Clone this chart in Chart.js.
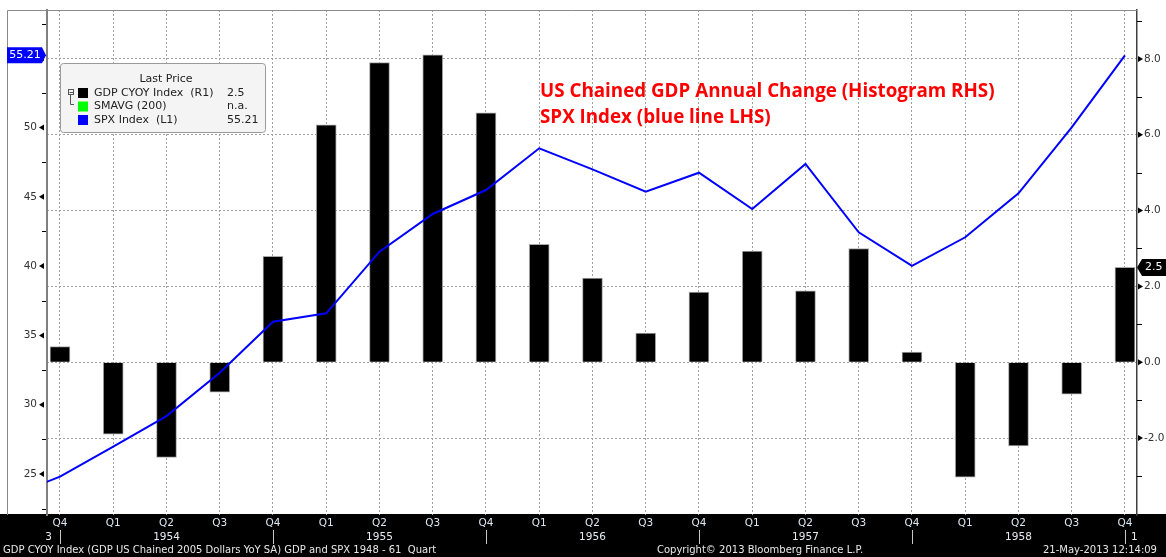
<!DOCTYPE html>
<html>
<head>
<meta charset="utf-8">
<title>US Chained GDP vs SPX</title>
<script src="https://cdn.jsdelivr.net/npm/chart.js@4.4.1/dist/chart.umd.min.js"></script>
<style>
    html, body { margin: 0; padding: 0; background: #fff; }
    #wrap { position: relative; width: 1166px; height: 557px; }
</style>
</head>
<body>
<div id="wrap"><canvas id="chart"></canvas></div>
<script>
// ------------------------------------------
// Dados (Q4 1953 .. Q4 1958)
// ------------------------------------------
const quarters = ['Q4', 'Q1', 'Q2', 'Q3', 'Q4', 'Q1', 'Q2', 'Q3', 'Q4', 'Q1', 'Q2',
                  'Q3', 'Q4', 'Q1', 'Q2', 'Q3', 'Q4', 'Q1', 'Q2', 'Q3', 'Q4'];
const yearLabels = ['', '', '1954', '', '', '', '1955', '', '', '', '1956',
                    '', '', '', '1957', '', '', '', '1958', '', ''];

// GDP CYOY (histograma, eixo direito)
const gdpYoY = [0.41, -1.90, -2.51, -0.79, 2.79, 6.26, 7.90, 8.11, 6.58, 3.11, 2.22,
                0.77, 1.85, 2.93, 1.88, 3.00, 0.27, -3.03, -2.21, -0.84, 2.5];

// SPX (linha azul, eixo esquerdo) - primeiro valor é Q3 1953, fora da área
const spxQ3_1953 = 23.3;
const spx = [24.81, 26.97, 29.18, 32.31, 35.99, 36.59, 41.04, 43.76, 45.49, 48.50, 46.98,
             45.37, 46.74, 44.12, 47.37, 42.44, 40.01, 42.08, 45.25, 50.01, 55.21];

// Ticks
const leftTicks = [25, 30, 35, 40, 45, 50, 55];
const rightTicks = [-2, 0, 2, 4, 6, 8];

const FONT = '"DejaVu Sans", Verdana, sans-serif';

// zera o padding automático dos rótulos para fixar a área do gráfico
function noPad(s) {
    s.paddingTop = 0;
    s.paddingBottom = 0;
    s.paddingLeft = 0;
    s.paddingRight = 0;
}

// ------------------------------------------
// Plugin: fundo, faixa preta, tags, legenda e título
// ------------------------------------------
const bbgDecor = {
    id: 'bbgDecor',
    beforeDraw(chart) {
        const { ctx, width, height, chartArea } = chart;
        ctx.save();
        ctx.fillStyle = '#fff';
        ctx.fillRect(0, 0, width, height);
        ctx.fillStyle = '#000';
        ctx.fillRect(0, chartArea.bottom - 1, width, height - chartArea.bottom + 1);
        ctx.restore();
    },
    afterDraw(chart) {
        const { ctx, chartArea } = chart;
        const xs = chart.scales.x;
        const yl = chart.scales.y;
        const yr = chart.scales.y1;
        ctx.save();

        // moldura externa
        ctx.strokeStyle = '#8a8a8a';
        ctx.lineWidth = 1;
        ctx.beginPath();
        ctx.moveTo(7.5, chartArea.bottom);
        ctx.lineTo(7.5, chartArea.top + 0.5);
        ctx.lineTo(chartArea.right, chartArea.top + 0.5);
        ctx.stroke();

        // ticks do eixo esquerdo
        ctx.fillStyle = '#000';
        ctx.strokeStyle = '#000';
        leftTicks.forEach(v => {
            const y = yl.getPixelForValue(v);
            ctx.beginPath();
            ctx.moveTo(39, y);
            ctx.lineTo(44, y - 3);
            ctx.lineTo(44, y + 3);
            ctx.closePath();
            ctx.fill();
            const m = yl.getPixelForValue(v - 2.5);
            if (m < chartArea.bottom - 2) {
                ctx.beginPath();
                ctx.moveTo(42, Math.round(m) + 0.5);
                ctx.lineTo(46, Math.round(m) + 0.5);
                ctx.stroke();
            }
        });
        const m57 = yl.getPixelForValue(57.5);
        ctx.beginPath();
        ctx.moveTo(42, Math.round(m57) + 0.5);
        ctx.lineTo(46, Math.round(m57) + 0.5);
        ctx.stroke();

        // ticks do eixo direito
        const rx = chartArea.right;
        rightTicks.forEach(v => {
            const y = yr.getPixelForValue(v);
            ctx.beginPath();
            ctx.moveTo(rx + 6, y);
            ctx.lineTo(rx + 1, y - 3);
            ctx.lineTo(rx + 1, y + 3);
            ctx.closePath();
            ctx.fill();
        });
        [-3, -1, 1, 3, 5, 7, 9].forEach(v => {
            const y = Math.round(yr.getPixelForValue(v)) + 0.5;
            ctx.beginPath();
            ctx.moveTo(rx, y);
            ctx.lineTo(rx + 5, y);
            ctx.stroke();
        });

        // anos e separadores na faixa preta
        ctx.font = '10.5px ' + FONT;
        ctx.fillStyle = '#e6ecf2';
        ctx.textBaseline = 'middle';
        ctx.textAlign = 'center';
        yearLabels.forEach((t, i) => {
            if (t) ctx.fillText(t, xs.getPixelForValue(i), 537);
        });
        ctx.textAlign = 'right';
        ctx.fillText('3', xs.getPixelForValue(0) - 8, 537);
        ctx.textAlign = 'left';
        ctx.fillText('1', xs.getPixelForValue(20) + 6, 537);
        ctx.strokeStyle = '#c8c8c8';
        quarters.forEach((q, i) => {
            if (q !== 'Q4') return;
            const x = Math.round(xs.getPixelForValue(i)) + 0.5;
            ctx.beginPath();
            ctx.moveTo(x, 530);
            ctx.lineTo(x, 544);
            ctx.stroke();
        });

        // rodapé
        ctx.font = '10px ' + FONT;
        ctx.fillStyle = '#e8e8e8';
        ctx.textAlign = 'left';
        ctx.fillText('GDP CYOY Index (GDP US Chained 2005 Dollars YoY SA) GDP and SPX 1948 - 61  Quart', 3, 550);
        ctx.fillText('Copyright\u00a9 2013 Bloomberg Finance L.P.', 657, 550);
        ctx.fillText('21-May-2013 12:14:09', 1043, 550);

        // tag azul (último SPX)
        const ty = yl.getPixelForValue(spx[spx.length - 1]);
        ctx.fillStyle = '#0000ff';
        ctx.beginPath();
        ctx.moveTo(7, ty - 8);
        ctx.lineTo(42, ty - 8);
        ctx.lineTo(46, ty);
        ctx.lineTo(42, ty + 8);
        ctx.lineTo(7, ty + 8);
        ctx.closePath();
        ctx.fill();
        ctx.fillStyle = '#fff';
        ctx.font = '11px ' + FONT;
        ctx.textAlign = 'center';
        ctx.fillText('55.21', 25, ty);

        // tag preta (último GDP)
        const gy = yr.getPixelForValue(gdpYoY[gdpYoY.length - 1]);
        ctx.fillStyle = '#000';
        ctx.beginPath();
        ctx.moveTo(rx, gy);
        ctx.lineTo(rx + 5, gy - 8.5);
        ctx.lineTo(1166, gy - 8.5);
        ctx.lineTo(1166, gy + 8.5);
        ctx.lineTo(rx + 5, gy + 8.5);
        ctx.closePath();
        ctx.fill();
        ctx.fillStyle = '#fff';
        ctx.textAlign = 'left';
        ctx.fillText('2.5', rx + 8, gy);

        // legenda estilo Bloomberg
        ctx.fillStyle = '#f4f4f4';
        ctx.strokeStyle = '#9a9a9a';
        ctx.beginPath();
        ctx.roundRect(60.5, 63.5, 205, 69, 3);
        ctx.fill();
        ctx.stroke();
        ctx.fillStyle = '#222';
        ctx.font = '11px ' + FONT;
        ctx.textAlign = 'center';
        ctx.fillText('Last Price', 166, 79);
        const rows = [
            { c: '#000000', name: 'GDP CYOY Index  (R1)', val: '2.5', y: 93 },
            { c: '#00ff00', name: 'SMAVG (200)', val: 'n.a.', y: 106.5 },
            { c: '#0000ff', name: 'SPX Index  (L1)', val: '55.21', y: 120 }
        ];
        ctx.textAlign = 'left';
        rows.forEach(r => {
            ctx.fillStyle = r.c;
            ctx.fillRect(78, r.y - 5, 10, 10);
            ctx.fillStyle = '#222';
            ctx.fillText(r.name, 94, r.y);
            ctx.fillText(r.val, 227, r.y);
        });
        // ícone de árvore
        ctx.strokeStyle = '#555';
        ctx.strokeRect(68.5, 89.5, 5, 5);
        ctx.beginPath();
        ctx.moveTo(69.5, 92.5); ctx.lineTo(73, 92.5);
        ctx.moveTo(70.5, 95); ctx.lineTo(70.5, 104.5); ctx.lineTo(74, 104.5);
        ctx.stroke();

        // título em vermelho
        ctx.fillStyle = '#ff0000';
        ctx.font = 'bold 18.8px "Open Sans", sans-serif';
        ctx.textAlign = 'left';
        ctx.fillText('US Chained GDP Annual Change (Histogram RHS)', 540, 92);
        ctx.fillText('SPX Index (blue line LHS)', 540, 118);

        ctx.restore();
    }
};

// ------------------------------------------
// Gráfico
// ------------------------------------------
const ctx = document.getElementById('chart').getContext('2d');
new Chart(ctx, {
    type: 'bar',
    data: {
        datasets: [
            {
                type: 'line',
                label: 'SPX Index (L1)',
                data: [{ x: -1, y: spxQ3_1953 }].concat(spx.map((v, i) => ({ x: i, y: v }))),
                yAxisID: 'y',
                borderColor: '#0000ff',
                borderWidth: 2,
                pointRadius: 0,
                tension: 0,
                clip: 0
            },
            {
                label: 'GDP CYOY Index (R1)',
                data: gdpYoY.map((v, i) => ({ x: i, y: v })),
                yAxisID: 'y1',
                backgroundColor: '#000',
                borderColor: '#a8a8a8',
                borderWidth: 1,
                barThickness: 20
            }
        ]
    },
    options: {
        responsive: true,
        maintainAspectRatio: false,
        animation: false,
        layout: { padding: { top: 10, left: 0, right: 0, bottom: 0 } },
        plugins: {
            legend: { display: false },
            tooltip: { enabled: false }
        },
        scales: {
            x: {
                type: 'linear',
                offset: false,
                min: -0.244,
                max: 20.226,
                afterBuildTicks: s => { s.ticks = quarters.map((q, i) => ({ value: i })); },
                afterFit: s => { s.height = 42; noPad(s); },
                ticks: {
                    autoSkip: false,
                    maxRotation: 0,
                    padding: 2,
                    color: '#dce6f0',
                    font: { family: FONT, size: 10.5 },
                    callback: v => quarters[v]
                },
                grid: { color: '#a0a0a0', drawTicks: false, offset: false },
                border: { display: false, dash: [2, 2] }
            },
            y: {
                position: 'left',
                min: 22.04,
                max: 58.48,
                afterBuildTicks: s => { s.ticks = leftTicks.map(v => ({ value: v })); },
                afterFit: s => { s.width = 47; noPad(s); },
                ticks: {
                    padding: 10,
                    color: '#333',
                    font: { family: FONT, size: 10.5 }
                },
                grid: { drawOnChartArea: false, drawTicks: false },
                border: { color: '#808080', width: 2 }
            },
            y1: {
                position: 'right',
                min: -4.03,
                max: 9.29,
                afterBuildTicks: s => { s.ticks = rightTicks.map(v => ({ value: v })); },
                afterFit: s => { s.width = 29; noPad(s); },
                ticks: {
                    padding: 7,
                    color: '#333',
                    font: { family: FONT, size: 10.5 },
                    callback: v => v.toFixed(1)
                },
                grid: { color: '#a0a0a0', drawTicks: false },
                border: { color: '#404040', width: 1.5, dash: [2, 2] }
            }
        }
    },
    plugins: [bbgDecor]
});
</script>
</body>
</html>
